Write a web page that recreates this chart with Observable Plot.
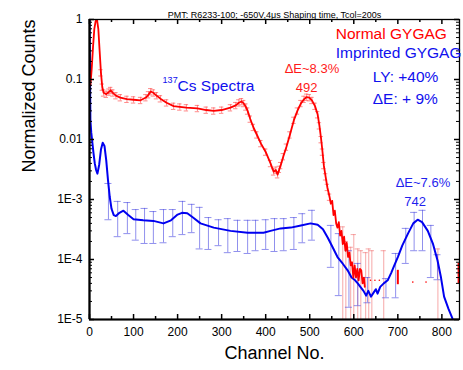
<!DOCTYPE html>
<html><head><meta charset="utf-8">
<script src="https://cdn.jsdelivr.net/npm/d3@7"></script>
<script src="https://cdn.jsdelivr.net/npm/@observablehq/plot@0.6"></script>
<style>body{margin:0;background:#fff}</style>
</head><body><div id="chart"></div>
<script>
// Normal GYGAG (red)
const redCh = [0,2,5,8,11,14,17,20,23,26,29,32,38,44,48,53,60,70,85,100,116,128,134,139,145,152,161,175,191,205,220,245,265,282,300,320,332,339,345,350,355,359,365,372,380,389,400,411,418,423,427,431,434,440,447,455,464,472,480,487,493,499,505,512,518,522,526,529,532,536,540,545,548,551,554,557,560,563,566,569,572,575,578,581,584,587,590,593,596,599,602,605,608,611,614,617,620,623,625];
const redVal = [0.14,0.08,0.15,0.35,0.7,0.95,1.0,0.7,0.3,0.13,0.075,0.06,0.057,0.062,0.066,0.06,0.054,0.05,0.047,0.046,0.045,0.05,0.056,0.063,0.06,0.054,0.048,0.041,0.036,0.035,0.034,0.033,0.031,0.030,0.031,0.034,0.037,0.041,0.043,0.04,0.035,0.03,0.022,0.016,0.012,0.0086,0.0062,0.004,0.0029,0.0031,0.0026,0.0032,0.0037,0.0052,0.0075,0.012,0.021,0.03,0.04,0.047,0.051,0.05,0.045,0.036,0.026,0.017,0.010,0.0062,0.0037,0.0024,0.0016,0.0011,0.00085,0.00095,0.00055,0.00065,0.0004,0.00034,0.00042,0.00025,0.0003,0.00018,0.00024,0.00014,0.00019,0.00011,0.00013,0.00008,0.00009,0.00005,0.00008,0.00005,0.00007,0.000045,0.00007,0.000066,0.00004,0.00005,0.000035];
const redRelErr = 0.12;
const redDotCh = [638,648,658,734,764];
const redDotVal = [4.5e-5,4.5e-5,4.5e-5,4.2e-5,4.2e-5];
const redSegCh = [700,838];
const redSegLo = [3.8e-5,4.0e-5];
const redSegHi = [6.6e-5,8.6e-5];
const lredCh = [575,582,593,600,609,616,627,634,641,668,791];
const lredHi = [3.5e-4,2.0e-4,1.6e-4,2.6e-4,1.5e-4,1.4e-4,1.3e-4,1.5e-4,1.4e-4,1.4e-4,1.5e-4];
const lredLo = [1e-6,1e-6,1e-6,1e-6,1e-6,1e-6,1e-6,1e-6,1e-6,1e-6,1e-6];

// Imprinted GYGAG (blue)
const blueCh = [0,1,2,4,6,9,12,15,18,22,26,30,34,38,42,46,50,55,60,68,77,88,100,122,145,168,185,200,210,222,235,252,282,320,359,395,411,434,457,480,502,518,530,541,552,563,575,586,595,603,609,615,622,628,633,639,645,650,654,660,668,677,685,692,700,710,723,735,745,755,768,780,790,798,805,815,825,832];
const blueVal = [1,0.2,0.021,0.013,0.0096,0.006,0.004,0.0031,0.0027,0.0038,0.0068,0.0088,0.0078,0.0045,0.0021,0.0011,0.0007,0.00055,0.00053,0.0006,0.00065,0.00055,0.00047,0.00045,0.00044,0.0004,0.00045,0.00056,0.0006,0.00059,0.0005,0.0004,0.00034,0.0003,0.00028,0.00028,0.0003,0.00033,0.00034,0.00037,0.0004,0.00038,0.00032,0.00023,0.00016,0.00011,0.000085,0.000066,0.00005,0.000045,0.00004,0.000035,0.00003,0.000025,0.00003,0.000024,0.000028,0.000032,0.000027,0.000035,0.00004,0.000045,0.00006,0.00008,0.00011,0.00017,0.00027,0.0004,0.00046,0.00042,0.0003,0.00018,0.000097,0.00005,0.000024,0.000015,0.00001,0.000008];
const bErrCh = [43,64,86,105,125,145,168,189,211,232,250,270,293,314,336,359,377,400,420,441,464,483,505,548,566,589,609,631,673,695,718,737,756,775,790];
const bErrLo = [4.6e-4,2.4e-4,2.7e-4,2.1e-4,1.85e-4,1.85e-4,1.9e-4,2.4e-4,2.6e-4,2.8e-4,1.5e-4,1.47e-4,1.7e-4,1.3e-4,1.36e-4,1.26e-4,1.4e-4,1.47e-4,1.36e-4,1.4e-4,1.47e-4,1.9e-4,2.1e-4,7.4e-5,2.5e-5,1.6e-5,1.7e-5,1.9e-5,2.3e-5,2.3e-5,8.6e-5,1.4e-4,1.4e-4,5.0e-5,4.6e-5];
const bErrHi = [1.85e-3,9.3e-4,8.9e-4,6.8e-4,7.1e-4,6.3e-4,6.8e-4,6.8e-4,9.3e-4,8.3e-4,7.4e-4,5.0e-4,4.6e-4,4.8e-4,4.5e-4,4.5e-4,4.5e-4,4.6e-4,4.8e-4,4.8e-4,5.0e-4,5.8e-4,6.6e-4,3.7e-4,2.7e-4,1.4e-4,8.6e-5,5.0e-5,4.8e-5,1.26e-4,3.3e-4,6.1e-4,6.6e-4,3.7e-4,1.2e-4];

// Axes
const xMajor = [0,100,200,300,400,500,600,700,800];
const xMinor = [50,150,250,350,450,550,650,750];
const yMajor = [1,0.1,0.01,1e-3,1e-4,1e-5];
const yLabels = ["1","0.1","0.01","1E-3","1E-4","1E-5"];
const yMinor = [];
for (const dec of [1e-5,1e-4,1e-3,1e-2,1e-1]) for (const m of [2,3,4,5,6,7,8,9]) yMinor.push(dec*m);

// Annotations
const annText  = ["Normal GYGAG","Imprinted GYGAG","ΔE~8.3%","492","LY: +40%","ΔE: + 9%","Cs Spectra","137","ΔE~7.6%","742"];
const annCh    = [559,559,505,493,643,643,200,166,757,739];
const annVal   = [0.58,0.28,0.152,0.0736,0.108,0.048,0.0764,0.096,0.00192,0.00093];
const annColor = ["#ff0000","#1010ee","#ff1a1a","#ff1a1a","#1010ee","#1010ee","#1010ee","#1010ee","#1f1fee","#1f1fee"];
const annSize  = [15.5,15.5,13,13,15.5,15.5,15.5,9,13,13];
const annAnchor= ["start","start","middle","middle","start","start","start","start","middle","middle"];

const red = redCh.map((c,i)=>({ch:c, v:redVal[i]}));
const redErr = red.filter(d=>d.ch>=25 && d.ch<=545);
const blue = blueCh.map((c,i)=>({ch:c, v:blueVal[i]}));
const bErr = bErrCh.map((c,i)=>({ch:c, lo:bErrLo[i], hi:bErrHi[i]}));
const lred = lredCh.map((c,i)=>({ch:c, lo:lredLo[i], hi:lredHi[i]}));
const redDots = redDotCh.map((c,i)=>({ch:c, v:redDotVal[i]}));
const redSegs = redSegCh.map((c,i)=>({ch:c, lo:redSegLo[i], hi:redSegHi[i]}));
const ann = annText.map((t,i)=>({t, ch:annCh[i], v:annVal[i], c:annColor[i], s:annSize[i], a:annAnchor[i]}));

const tk = 10**(5/60), tkm = 10**(3/60);
const lightBlue = "rgba(70,70,225,0.6)";
const lightRed = "rgba(240,110,110,0.6)";
const capRed = "rgba(255,90,90,0.7)";

const chart = Plot.plot({
  width: 463, height: 370,
  marginLeft: 89, marginRight: 4, marginTop: 19, marginBottom: 51,
  style: {fontFamily: "'Liberation Sans', Arial, sans-serif", fontSize: "12px", background: "white", color: "black"},
  x: {domain: [0, 840]},
  y: {type: "log", domain: [1e-5, 1]},
  marks: [
    // error bars
    Plot.ruleX(lred, {x: "ch", y1: "lo", y2: "hi", stroke: lightRed, strokeWidth: 1, clip: true}),
    Plot.ruleY(lred, {y: "hi", x1: d=>d.ch-6, x2: d=>d.ch+6, stroke: lightRed, strokeWidth: 1, clip: true}),
    Plot.ruleX(bErr, {x: "ch", y1: "lo", y2: "hi", stroke: lightBlue, strokeWidth: 1, clip: true}),
    Plot.ruleY(bErr, {y: "hi", x1: d=>d.ch-8, x2: d=>d.ch+8, stroke: lightBlue, strokeWidth: 1, clip: true}),
    Plot.ruleY(bErr, {y: "lo", x1: d=>d.ch-8, x2: d=>d.ch+8, stroke: lightBlue, strokeWidth: 1, clip: true}),
    Plot.ruleX(redErr, {x: "ch", y1: d=>d.v*(1-redRelErr), y2: d=>d.v*(1+redRelErr), stroke: capRed, strokeWidth: 1}),
    Plot.ruleY(redErr, {y: d=>d.v*(1+redRelErr), x1: d=>d.ch-5, x2: d=>d.ch+5, stroke: capRed, strokeWidth: 1}),
    Plot.ruleY(redErr, {y: d=>d.v*(1-redRelErr), x1: d=>d.ch-5, x2: d=>d.ch+5, stroke: capRed, strokeWidth: 1}),
    // curves
    Plot.line(blue, {x: "ch", y: "v", stroke: "#0000f0", strokeWidth: 2, clip: true}),
    Plot.line(red, {x: "ch", y: "v", stroke: "#ff0000", strokeWidth: 1.8, clip: true}),
    Plot.dot(redDots, {x: "ch", y: "v", r: 0.8, fill: "#ff0000", stroke: null}),
    Plot.ruleX(redSegs, {x: "ch", y1: "lo", y2: "hi", stroke: "#ff0000", strokeWidth: 2, clip: true}),
    // frame & axes lines
    Plot.frame({stroke: "black", strokeWidth: 1.3}),
    Plot.ruleX([0], {stroke: "black", strokeWidth: 2.2}),
    Plot.ruleY([1e-5], {stroke: "black", strokeWidth: 2.2}),
    // inward ticks
    Plot.ruleX(xMajor, {x: d=>d, y1: 1e-5, y2: 1e-5*tk, stroke: "black", strokeWidth: 1.5}),
    Plot.ruleX(xMinor, {x: d=>d, y1: 1e-5, y2: 1e-5*tkm, stroke: "black", strokeWidth: 1.5}),
    Plot.ruleX(xMajor, {x: d=>d, y1: 1, y2: 1/tk, stroke: "black", strokeWidth: 1.5}),
    Plot.ruleX(xMinor, {x: d=>d, y1: 1, y2: 1/tkm, stroke: "black", strokeWidth: 1.5}),
    Plot.ruleY(yMajor, {y: d=>d, x1: 0, x2: 5/0.44, stroke: "black", strokeWidth: 1.5}),
    Plot.ruleY(yMinor, {y: d=>d, x1: 0, x2: 3/0.44, stroke: "black", strokeWidth: 1}),
    Plot.ruleY(yMajor, {y: d=>d, x1: 840, x2: 840-5/0.44, stroke: "black", strokeWidth: 1.5}),
    Plot.ruleY(yMinor, {y: d=>d, x1: 840, x2: 840-3/0.44, stroke: "black", strokeWidth: 1}),
    // tick labels
    Plot.axisX({ticks: xMajor, tickSize: 0, tickPadding: 8, label: null, fontSize: 12}),
    Plot.axisY({ticks: yMajor, tickSize: 0, tickPadding: 7, label: null, fontSize: 12,
                tickFormat: d => yLabels[yMajor.findIndex(t => Math.abs(Math.log10(t) - Math.log10(d)) < 1e-6)]}),
    // annotations
    Plot.text(ann.filter(d=>d.a==="start"), {x: "ch", y: "v", text: "t", fill: "c", fontSize: "s", textAnchor: "start"}),
    Plot.text(ann.filter(d=>d.a==="middle"), {x: "ch", y: "v", text: "t", fill: "c", fontSize: "s", textAnchor: "middle"}),
    Plot.text(["PMT: R6233-100; -650V,4μs Shaping time, Tcol=200s"], {frameAnchor: "top", dy: -8, fontSize: 9, fill: "black"}),
    Plot.text(["Normalized Counts"], {frameAnchor: "left", dx: -60, dy: 3, rotate: -90, fontSize: 18, fill: "black"}),
    Plot.text(["Channel No."], {frameAnchor: "bottom", dy: 39, fontSize: 18, fill: "black"})
  ]
});
document.getElementById("chart").appendChild(chart);
</script>
</body></html>
